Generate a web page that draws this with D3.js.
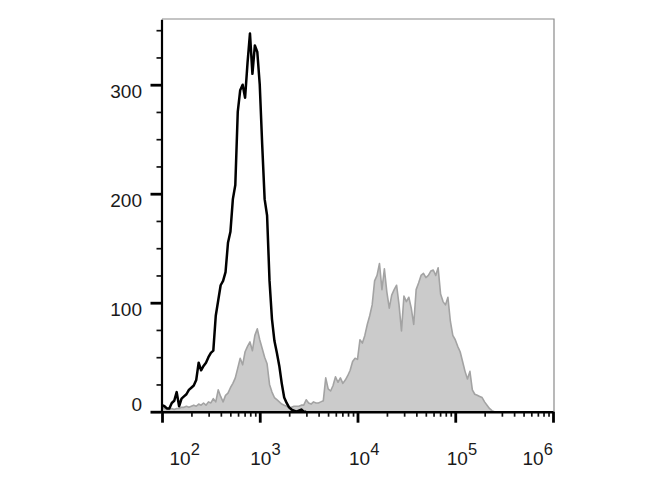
<!DOCTYPE html>
<html><head><meta charset="utf-8">
<script src="https://cdn.jsdelivr.net/npm/d3@7"></script>
<style>
body{margin:0;background:#fff}
svg{display:block}
text{font-family:"Liberation Sans",Arial,sans-serif;fill:#1a1a1a}
</style>
</head><body>
<svg id="chart" width="670" height="500"></svg>
<script>
// Histogram channels: log10 bins starting at 10^2, step 0.025 decade
const binStartLog = 2;
const binStepLog = 0.025;

// Unstained control (black outline)
const unstained = [6,5,3,3,8,10,18,5,12,14,16,20,22,24,29,45,38,42,45,50,54,56,88,102,116,120,128,155,165,195,208,275,295,300,288,320,347,310,336,330,300,245,195,180,120,85,65,54,42,26,13,8,4,2,1,0,1,2,0,0];

// Stained sample (grey filled)
const stained = [4,3,2,2,3,2,3,3,4,4,5,4,5,6,5,7,6,8,6,9,8,12,9,20,14,9,15,17,22,26,31,40,49,43,55,60,64,56,70,76,66,58,50,44,25,18,13,11,9,7,6,5,4,4,5,5,5,6,6,11,8,7,9,8,8,9,10,31,21,19,24,32,27,31,26,29,33,38,46,49,48,66,63,70,80,88,98,120,125,136,112,131,110,95,107,112,116,98,74,106,101,105,95,80,112,118,125,127,123,125,129,130,125,132,108,101,98,105,83,70,66,60,55,46,37,30,37,20,16,15,14,13,9,6,3,1,0];

const xTickValues = [1e2, 1e3, 1e4, 1e5, 1e6];
const xTickExponents = ["2", "3", "4", "5", "6"];
const xLabelShift = [18, 1, 2, 2, -20];
const xMinorMultipliers = [2, 3, 4, 5, 6, 7, 8, 9];
const yTickValues = [0, 100, 200, 300];
const yLabelShift = [-0.5, 13, 13, 13];
const yMinorTicks = [25, 50, 75, 125, 150, 175, 225, 250, 275, 325, 350];

const svg = d3.select("#chart");
svg.append("rect").attr("width", 670).attr("height", 500).attr("fill", "#fff");

const plotL = 162, plotR = 553.5, plotT = 19, plotB = 411.7;
const x = d3.scaleLog().domain([1e2, 1e6]).range([plotL, 553]);
const y = d3.scaleLinear().domain([0, 360]).range([plotB, plotT + 0.3]);

const chan = i => Math.pow(10, binStartLog + i * binStepLog);

// frame (top & right)
svg.append("path")
  .attr("d", `M${plotL},${plotT}H${plotR + 0.5}V${plotB}`)
  .attr("fill", "none").attr("stroke", "#8a8a8a").attr("stroke-width", 1.2);

// stained filled histogram
const area = d3.area().x((d, i) => x(chan(i))).y0(y(0)).y1(d => y(d)).curve(d3.curveLinear);
const line = d3.line().x((d, i) => x(chan(i))).y(d => y(d)).curve(d3.curveLinear);

svg.append("path").datum(stained).attr("d", area).attr("fill", "#cbcbcb");
svg.append("path").datum(stained).attr("d", line)
  .attr("fill", "none").attr("stroke", "#a3a3a3").attr("stroke-width", 1.6).attr("stroke-linejoin", "round");

// unstained outline
svg.append("path").datum(unstained).attr("d", line)
  .attr("fill", "none").attr("stroke", "#000").attr("stroke-width", 2.5).attr("stroke-linejoin", "round");

// X axis
const xMinor = [];
[1e2, 1e3, 1e4, 1e5].forEach(d => xMinorMultipliers.forEach(m => xMinor.push(m * d)));

const gx = svg.append("g").attr("transform", `translate(0,${plotB})`);
gx.call(d3.axisBottom(x).tickValues(xMinor).tickSize(5).tickFormat(""))
  .call(g => g.select(".domain").remove())
  .call(g => g.selectAll(".tick line").attr("stroke", "#111").attr("stroke-width", 1.7));
const gx2 = svg.append("g").attr("transform", `translate(0,${plotB})`);
gx2.call(d3.axisBottom(x).tickValues(xTickValues).tickSize(11).tickSizeOuter(0).tickFormat(""))
  .call(g => g.select(".domain").attr("stroke", "#000").attr("stroke-width", 2.5))
  .call(g => g.selectAll(".tick line").attr("stroke", "#000").attr("stroke-width", 2.8));

xTickValues.forEach((v, i) => {
  const cx = x(v) + xLabelShift[i];
  const t = svg.append("text").attr("x", cx - 10.5).attr("y", 465).attr("font-size", 19);
  t.append("tspan").text("10");
  t.append("tspan").attr("font-size", 16.5).attr("dy", -10).text(xTickExponents[i]);
});

// Y axis
const gy = svg.append("g").attr("transform", `translate(${plotL - 0.5},0)`);
gy.call(d3.axisLeft(y).tickValues(yMinorTicks).tickSize(5).tickFormat(""))
  .call(g => g.select(".domain").remove())
  .call(g => g.selectAll(".tick line").attr("stroke", "#111").attr("stroke-width", 1.7));
const gy2 = svg.append("g").attr("transform", `translate(${plotL - 0.5},0)`);
gy2.call(d3.axisLeft(y).tickValues(yTickValues).tickSize(11).tickSizeOuter(0).tickFormat(""))
  .call(g => g.select(".domain").attr("stroke", "#000").attr("stroke-width", 2.2))
  .call(g => g.selectAll(".tick line").attr("stroke", "#000").attr("stroke-width", 2.8));

yTickValues.forEach((v, i) => {
  svg.append("text").attr("x", 142).attr("y", y(v) + yLabelShift[i])
    .attr("text-anchor", "end").attr("font-size", 19).text(String(v));
});
</script>
</body></html>
